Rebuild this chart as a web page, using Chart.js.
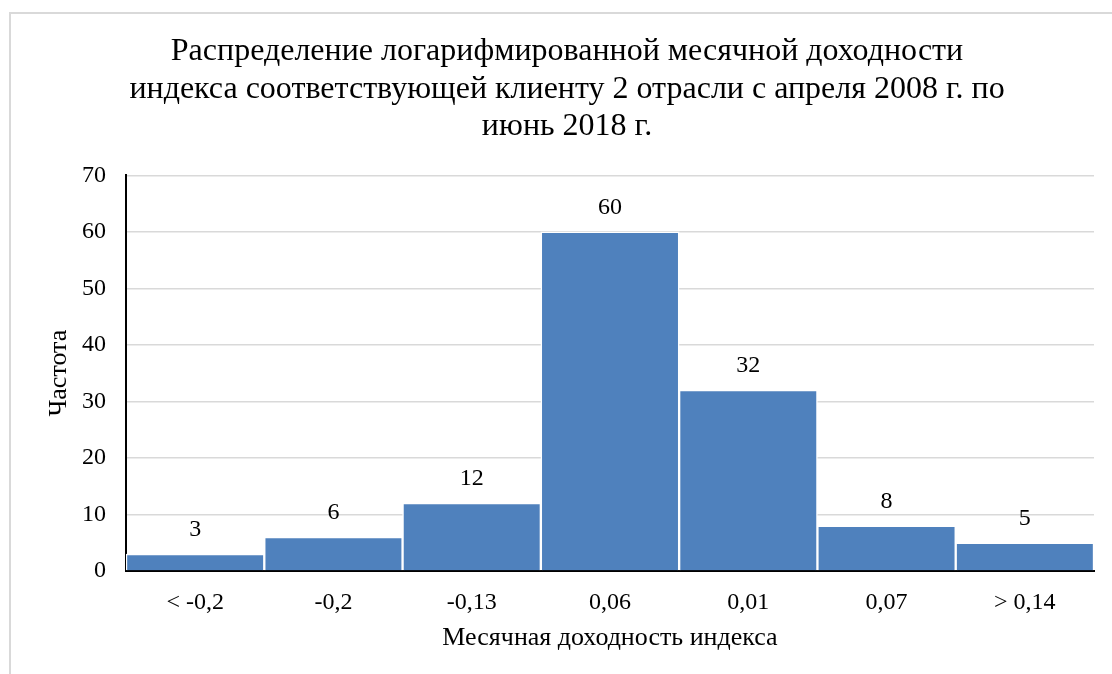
<!DOCTYPE html>
<html>
<head>
<meta charset="utf-8">
<script src="https://cdn.jsdelivr.net/npm/chart.js@4.4.0/dist/chart.umd.min.js"></script>
<style>
  html, body { margin: 0; padding: 0; background: #fff; overflow: hidden; }
  #frame { position: absolute; left: 9px; top: 12px; width: 1200px; height: 700px; border: 2px solid #d9d9d9; }
  #wrap { position: absolute; left: 0; top: 0; width: 1112px; height: 674px; }
</style>
</head>
<body>
<div id="frame"></div>
<div id="wrap"><canvas id="chart"></canvas></div>
<script>
// категории (интервалы доходности) и частоты
const categories = ['< -0,2', '-0,2', '-0,13', '0,06', '0,01', '0,07', '> 0,14'];
const frequencies = [3, 6, 12, 60, 32, 8, 5];
const yTicks = [0, 10, 20, 30, 40, 50, 60, 70];

const titleLines = [
    'Распределение логарифмированной месячной доходности',
    'индекса соответствующей клиенту 2 отрасли с апреля 2008 г. по',
    'июнь 2018 г.'
];

const FONT = '"Liberation Serif", "Times New Roman", serif';

// подписи значений над столбцами
const valueLabels = {
    id: 'valueLabels',
    afterDatasetsDraw(chart) {
        const ctx = chart.ctx;
        const meta = chart.getDatasetMeta(0);
        ctx.save();
        ctx.font = '24px ' + FONT;
        ctx.fillStyle = '#000';
        ctx.textAlign = 'center';
        ctx.textBaseline = 'middle';
        meta.data.forEach((bar, i) => {
            ctx.fillText(String(frequencies[i]), bar.x, bar.y - 24);
        });
        ctx.restore();
    }
};

const ctx = document.getElementById('chart').getContext('2d');
new Chart(ctx, {
    type: 'bar',
    data: {
        labels: categories,
        datasets: [{
            data: frequencies,
            backgroundColor: '#4f81bd',
            borderColor: '#ffffff',
            borderWidth: 1.5,
            barPercentage: 1,
            categoryPercentage: 1
        }]
    },
    options: {
        responsive: true,
        maintainAspectRatio: false,
        animation: false,
        layout: { padding: { left: 40, right: 18, top: 0, bottom: 0 } },
        plugins: {
            legend: { display: false },
            tooltip: { enabled: false },
            title: {
                display: true,
                text: titleLines,
                color: '#000',
                font: { family: FONT, size: 32, weight: 'normal', lineHeight: 1.17 },
                padding: { top: 33, bottom: 30 }
            }
        },
        scales: {
            x: {
                grid: { display: false, drawTicks: false },
                border: { display: true, color: '#000', width: 2 },
                ticks: { color: '#000', font: { family: FONT, size: 24 }, padding: 17 },
                title: {
                    display: true,
                    text: 'Месячная доходность индекса',
                    color: '#000',
                    font: { family: FONT, size: 26 },
                    padding: { top: 8, bottom: 20 }
                },
                afterFit(scale) { scale.height = 103; }
            },
            y: {
                min: 0,
                max: 70,
                afterBuildTicks(scale) { scale.ticks = yTicks.map(v => ({ value: v })); },
                grid: { color: '#d9d9d9', lineWidth: 1.5, drawTicks: false },
                border: { display: true, color: '#000', width: 2 },
                ticks: { color: '#000', font: { family: FONT, size: 24 }, padding: 20 },
                title: {
                    display: true,
                    text: 'Частота',
                    color: '#000',
                    font: { family: FONT, size: 26 },
                    padding: { top: 4, bottom: 0 }
                },
                afterFit(scale) { scale.width = 86; }
            }
        }
    },
    plugins: [valueLabels]
});
</script>
</body>
</html>
